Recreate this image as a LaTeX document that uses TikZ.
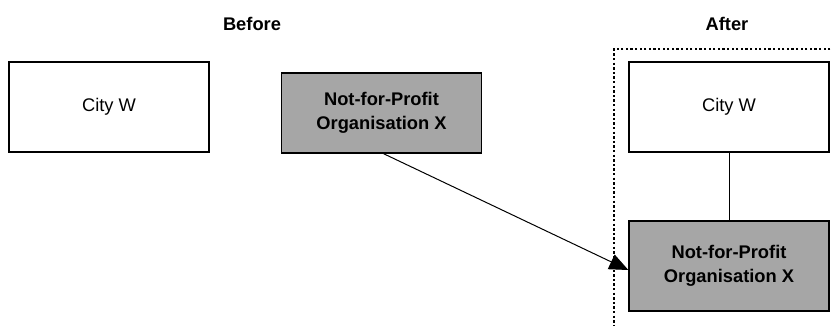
\documentclass[tikz,border=0pt]{standalone}
\usepackage{fontspec}
\setmainfont{Liberation Sans}
\usetikzlibrary{arrows.meta}
\definecolor{boxgray}{RGB}{166,166,166}
\begin{document}
\begin{tikzpicture}[x=1pt,y=-1pt,
  font=\fontsize{18.3}{24}\selectfont,
  plainbox/.style={draw,line width=1.3pt,fill=white,minimum width=200pt,minimum height=90pt,inner sep=0pt,align=center},
  graybox/.style={plainbox,fill=boxgray,font=\fontsize{18.3}{24}\selectfont\bfseries},
  title/.style={font=\fontsize{18.3}{24}\selectfont\bfseries},
  conn/.style={line width=1pt}]
\useasboundingbox (0,0) rectangle (833,325);
\node[title] (before) at (252,24) {Before};
\node[title] (after) at (727,24) {After};
\coordinate (dtl) at (614,49);
\coordinate (dtr) at (835,49);
\coordinate (dbl) at (614,327);
\draw[line width=2.5pt,dash pattern=on 2.3pt off 2.3pt] (dtr) -- (dtl) -- (dbl);
\node[plainbox] (city1) at (109,107) {City W};
\node[graybox,minimum height=80pt] (nfp1) at (381.5,113) {Not-for-Profit\\Organisation X};
\node[plainbox] (city2) at (729,107) {City W};
\node[graybox] (nfp2) at (729,266) {Not-for-Profit\\Organisation X};
\draw[conn] (city2) -- (nfp2);
\draw[conn,-{Triangle[length=19pt,width=16pt]}] ([xshift=2pt]nfp1.south) -- ([yshift=-4pt]nfp2.west);
\end{tikzpicture}
\end{document}
